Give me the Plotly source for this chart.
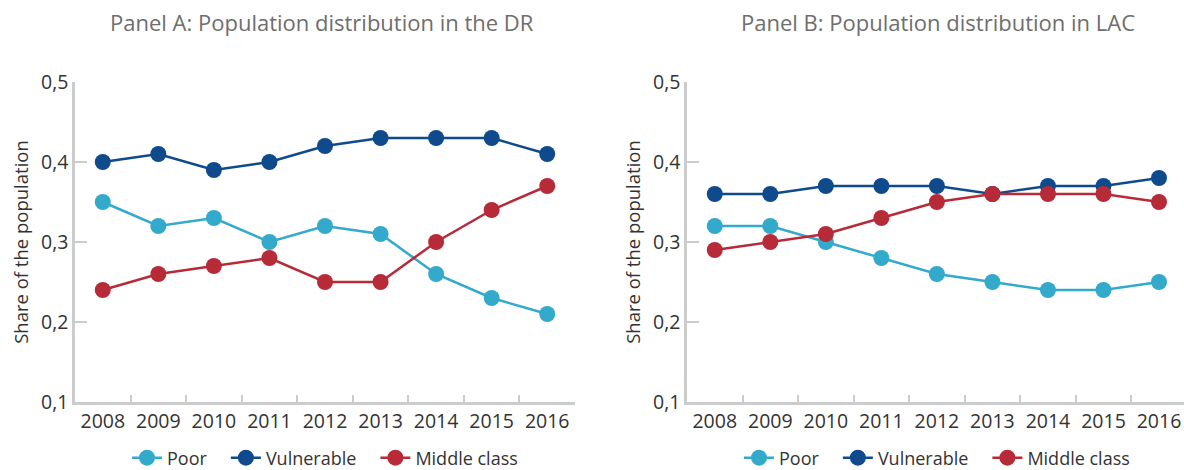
import plotly.graph_objects as go

years = ["2008", "2009", "2010", "2011", "2012", "2013", "2014", "2015", "2016"]

# Panel A: Dominican Republic
dr_poor = [0.35, 0.32, 0.33, 0.30, 0.32, 0.31, 0.26, 0.23, 0.21]
dr_vulnerable = [0.40, 0.41, 0.39, 0.40, 0.42, 0.43, 0.43, 0.43, 0.41]
dr_middle = [0.24, 0.26, 0.27, 0.28, 0.25, 0.25, 0.30, 0.34, 0.37]

# Panel B: Latin America and the Caribbean
lac_poor = [0.32, 0.32, 0.30, 0.28, 0.26, 0.25, 0.24, 0.24, 0.25]
lac_vulnerable = [0.36, 0.36, 0.37, 0.37, 0.37, 0.36, 0.37, 0.37, 0.38]
lac_middle = [0.29, 0.30, 0.31, 0.33, 0.35, 0.36, 0.36, 0.36, 0.35]

series_names = ["Poor", "Vulnerable", "Middle class"]
colors = ["#33aacb", "#0e4a8c", "#b72a37"]

W, H = 1184, 470
FONT = "Open Sans"
GRID = "#cccccc"
TEXT = "#333333"
PAD = "&nbsp;" * 3  # extra room between legend entries

fig = go.Figure()

panels = [
    ("x", "y", "legend", [dr_poor, dr_vulnerable, dr_middle]),
    ("x2", "y2", "legend2", [lac_poor, lac_vulnerable, lac_middle]),
]
for xa, ya, lg, data in panels:
    for i, (name, vals, col) in enumerate(zip(series_names, data, colors)):
        label = name + (PAD if i < len(series_names) - 1 else "")
        fig.add_trace(go.Scatter(
            x=years, y=vals, name=label, mode="lines+markers",
            xaxis=xa, yaxis=ya, legend=lg,
            hovertemplate=name + ": %{y}<extra></extra>",
            line=dict(color=col, width=2.5),
            marker=dict(color=col, size=16),
        ))

def px(v, total):
    return v / total

xaxis_common = dict(
    type="category",
    showgrid=False,
    showline=True, linecolor=GRID, linewidth=2.5,
    ticks="inside", tickson="boundaries", ticklen=7, tickwidth=2, tickcolor=GRID,
    tickfont=dict(family=FONT, size=19.5, color=TEXT),
    zeroline=False,
    fixedrange=True,
)
yaxis_common = dict(
    range=[0.1, 0.5], dtick=0.1, tickformat=".1f",
    showgrid=False,
    showline=True, linecolor=GRID, linewidth=2.5,
    ticks="inside", ticklen=12, tickwidth=2, tickcolor=GRID,
    tickfont=dict(family=FONT, size=19.5, color=TEXT),
    title=dict(text="Share of the population", font=dict(family=FONT, size=18.5, color=TEXT), standoff=8),
    zeroline=False,
    domain=[px(H - 402, H), px(H - 82, H)],
)

legend_common = dict(
    orientation="h", y=px(H - 458, H), yanchor="middle",
    font=dict(family=FONT, size=18, color=TEXT), itemwidth=30,
    traceorder="normal",
)

fig.update_layout(
    width=W, height=H,
    margin=dict(l=0, r=0, t=0, b=0, autoexpand=False),
    paper_bgcolor="white", plot_bgcolor="white",
    separators=", ",
    font=dict(family=FONT),
    xaxis=dict(xaxis_common, domain=[px(75, W), px(575, W)], range=[-0.5, 8.5], anchor="y"),
    yaxis=dict(yaxis_common, anchor="x"),
    xaxis2=dict(xaxis_common, domain=[px(687, W), 1.0], range=[-0.5, 8.45], anchor="y2"),
    yaxis2=dict(yaxis_common, anchor="x2"),
    legend=dict(legend_common, x=px(325, W), xanchor="center"),
    legend2=dict(legend_common, x=px(937, W), xanchor="center"),
    annotations=[
        dict(text="Panel A: Population distribution in the DR", x=px(322, W), y=px(H - 22, H),
             xref="paper", yref="paper", xanchor="center", yanchor="middle", showarrow=False,
             font=dict(family=FONT, size=22, color="#6e6e6e")),
        dict(text="Panel B: Population distribution in LAC", x=px(938, W), y=px(H - 22, H),
             xref="paper", yref="paper", xanchor="center", yanchor="middle", showarrow=False,
             font=dict(family=FONT, size=22, color="#6e6e6e")),
    ],
)

fig.write_html("out.html")
